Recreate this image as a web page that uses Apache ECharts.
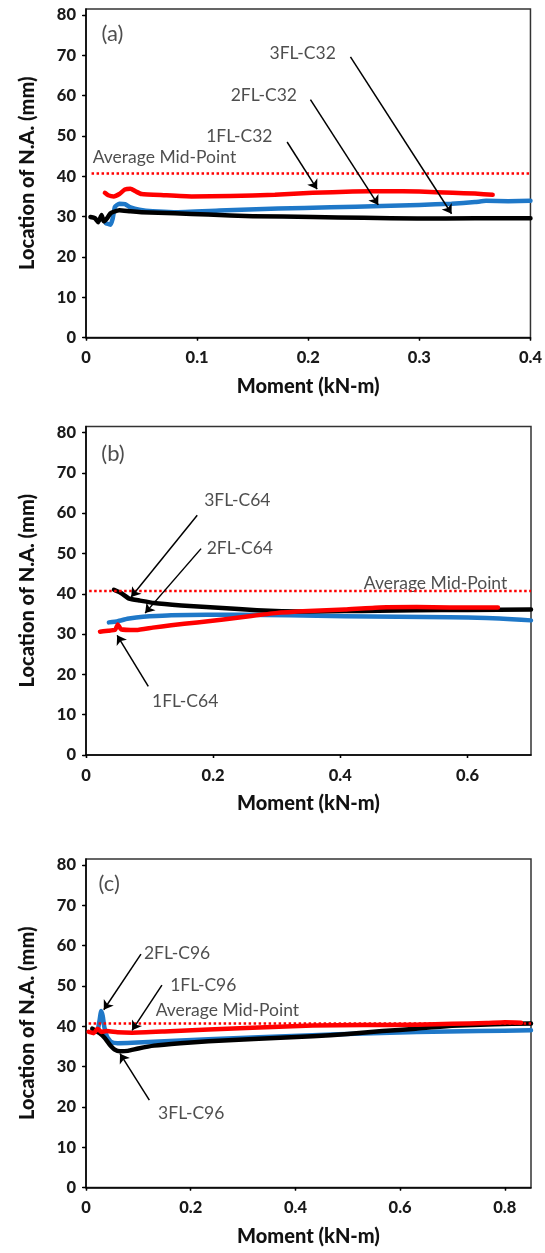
<!DOCTYPE html>
<html><head><meta charset="utf-8">
<script src="https://cdn.jsdelivr.net/npm/echarts@6/dist/echarts.min.js"></script>
<style>html,body{margin:0;padding:0;background:#fff}#c{width:545px;height:1253px}</style>
</head><body><div id="c"></div>
<script>
// ---- tick labels / axis ranges ----
const yTicks = [0,10,20,30,40,50,60,70,80];
const yMax = 81.5;
const xMaxes = [0.4, 0.7, 0.85];
const xTicksA = [0,0.1,0.2,0.3,0.4];
const xTicksB = [0,0.2,0.4,0.6];
const xTicksC = [0,0.2,0.4,0.6,0.8];
const xTitle = 'Moment (kN-m)';
const yTitle = 'Location of N.A. (mm)';
const midPoint = 40.7;

// ---- panel (a) C32 ----
const a1FL = [[0.017,35.9],[0.02,35.3],[0.025,35.0],[0.03,35.6],[0.035,36.7],[0.04,36.9],[0.045,36.2],[0.05,35.6],[0.07,35.3],[0.095,35.0],[0.13,35.1],[0.17,35.4],[0.204,35.9],[0.24,36.2],[0.27,36.3],[0.3,36.2],[0.33,35.9],[0.35,35.7],[0.366,35.4]];
const a2FL = [[0.018,28.3],[0.022,28.0],[0.024,29.5],[0.026,32.4],[0.03,33.2],[0.035,33.1],[0.04,32.3],[0.048,31.7],[0.06,31.3],[0.079,31.1],[0.12,31.5],[0.173,32.0],[0.22,32.3],[0.266,32.6],[0.3,32.9],[0.329,33.2],[0.35,33.6],[0.36,33.9],[0.38,33.8],[0.4,33.9]];
const a3FL = [[0.004,29.9],[0.008,29.6],[0.011,28.6],[0.014,30.4],[0.016,28.8],[0.019,29.6],[0.022,30.8],[0.025,31.2],[0.03,31.6],[0.04,31.3],[0.05,31.1],[0.08,30.8],[0.11,30.5],[0.15,30.1],[0.204,29.9],[0.25,29.7],[0.298,29.5],[0.35,29.6],[0.4,29.6]];
// ---- panel (b) C64 ----
const b1FL = [[0.022,30.6],[0.035,30.8],[0.046,31.1],[0.05,32.4],[0.055,31.2],[0.079,31.0],[0.105,31.6],[0.134,32.2],[0.175,32.9],[0.216,33.6],[0.26,34.5],[0.298,35.2],[0.35,35.7],[0.407,36.1],[0.462,36.6],[0.52,36.7],[0.572,36.6],[0.62,36.6],[0.648,36.6]];
const b2FL = [[0.036,32.9],[0.05,33.2],[0.065,33.8],[0.079,34.1],[0.1,34.4],[0.134,34.7],[0.19,34.8],[0.243,34.8],[0.32,34.7],[0.407,34.4],[0.49,34.3],[0.572,34.2],[0.63,34.0],[0.67,33.7],[0.7,33.4]];
const b3FL = [[0.044,41.0],[0.055,40.2],[0.068,38.8],[0.085,38.3],[0.107,37.7],[0.15,37.1],[0.189,36.7],[0.24,36.2],[0.298,35.7],[0.35,35.6],[0.407,35.7],[0.46,35.8],[0.517,35.9],[0.6,36.0],[0.7,36.1]];
// ---- panel (c) C96 ----
const c1FL = [[0.005,38.6],[0.015,38.3],[0.022,39.4],[0.029,38.6],[0.04,38.8],[0.06,38.5],[0.088,38.4],[0.15,38.7],[0.234,39.2],[0.33,39.7],[0.433,40.2],[0.53,40.3],[0.632,40.4],[0.7,40.6],[0.765,40.8],[0.8,41.0],[0.831,40.9]];
const c2FL = [[0.022,38.6],[0.026,41.5],[0.029,43.8],[0.032,42.5],[0.035,39.8],[0.04,37.5],[0.048,36.1],[0.06,35.8],[0.088,35.9],[0.15,36.3],[0.234,36.8],[0.33,37.3],[0.433,37.8],[0.53,38.2],[0.632,38.6],[0.75,38.8],[0.85,39.0]];
const c3FL = [[0.012,39.4],[0.025,38.4],[0.035,37.2],[0.045,35.5],[0.055,34.2],[0.065,33.8],[0.08,33.9],[0.1,34.5],[0.13,35.2],[0.18,35.8],[0.234,36.3],[0.33,36.9],[0.433,37.5],[0.5,38.1],[0.566,38.8],[0.63,39.4],[0.699,40.1],[0.78,40.5],[0.85,40.7]];

// ---- annotations: [text, x, y, align] and arrows [x1,y1,x2,y2] ----
const aTexts = [['3FL-C32',0.195,70.5,'c'],['2FL-C32',0.16,60.1,'c'],['1FL-C32',0.138,49.9,'c'],['Average Mid-Point',0.006,44.7,'l'],['(a)',0.014,75.4,'l']];
const aArrows = [[0.238,69.6,0.329,30.7],[0.202,59.0,0.263,32.9],[0.181,48.5,0.208,36.8]];
const bTexts = [['3FL-C64',0.238,63.2,'c'],['2FL-C64',0.242,51.2,'c'],['1FL-C64',0.156,13.3,'c'],['Average Mid-Point',0.437,42.7,'l'],['(b)',0.024,74.8,'l']];
const bArrows = [[0.175,59.5,0.071,39.2],[0.181,51.2,0.093,35.2],[0.098,17.0,0.049,29.7]];
const cTexts = [['2FL-C96',0.174,58.1,'c'],['1FL-C96',0.224,50.2,'c'],['3FL-C96',0.201,18.3,'c'],['Average Mid-Point',0.133,44.0,'l'],['(c)',0.024,75.4,'l']];
const cArrows = [[0.105,57.9,0.034,44.1],[0.145,50.2,0.088,39.0],[0.121,21.7,0.065,33.2]];

const RED = '#ff0000', BLUE = '#1f78c8', BLACK = '#000000';
const FONT = 'Lato';
const panels = [
  {top: 9, height: 328.5, xt: xTicksA, s1: a1FL, s2: a2FL, s3: a3FL, texts: aTexts, arrows: aArrows},
  {top: 426.5, height: 328.5, xt: xTicksB, s1: b1FL, s2: b2FL, s3: b3FL, texts: bTexts, arrows: bArrows},
  {top: 859, height: 328.5, xt: xTicksC, s1: c1FL, s2: c2FL, s3: c3FL, texts: cTexts, arrows: cArrows}
];

const grid = [], xAxis = [], yAxis = [], series = [];
panels.forEach((p, i) => {
  grid.push({left: 86, right: 14, top: p.top, height: p.height, show: true, borderColor: '#333', borderWidth: 1.5, backgroundColor: 'transparent'});
  const tickStyle = {color: '#000', width: 1.3};
  xAxis.push({type: 'value', gridIndex: i, min: 0, max: xMaxes[i],
    axisLine: {show: true, onZero: false, lineStyle: {color: '#000', width: 1.5}},
    axisTick: {show: true, inside: false, length: 3, customValues: p.xt, lineStyle: tickStyle},
    axisLabel: {show: true, margin: 12, customValues: p.xt, color: '#1a1a1a', fontFamily: FONT, fontWeight: 900, fontSize: 16.5,
      formatter: v => (v === 0 ? '0' : String(+v.toFixed(2)))},
    splitLine: {show: false},
    name: xTitle, nameLocation: 'middle', nameGap: 39,
    nameTextStyle: {color: '#111', fontFamily: FONT, fontWeight: 900, fontSize: 20}});
  xAxis.push({type: 'value', gridIndex: i, min: 0, max: xMaxes[i],
    axisLine: {show: false}, axisTick: {show: true, inside: true, length: 3, customValues: p.xt, lineStyle: tickStyle},
    axisLabel: {show: false}, splitLine: {show: false}});
  yAxis.push({type: 'value', gridIndex: i, min: 0, max: yMax,
    axisLine: {show: true, onZero: false, lineStyle: {color: '#000', width: 1.5}},
    axisTick: {show: true, inside: false, length: 4, customValues: yTicks, lineStyle: tickStyle},
    axisLabel: {show: true, margin: 10, customValues: yTicks, color: '#1a1a1a', fontFamily: FONT, fontWeight: 900, fontSize: 16.5},
    splitLine: {show: false},
    name: yTitle, nameLocation: 'middle', nameGap: 48,
    nameTextStyle: {color: '#111', fontFamily: FONT, fontWeight: 900, fontSize: 20}});
  yAxis.push({type: 'value', gridIndex: i, min: 0, max: yMax,
    axisLine: {show: false}, axisTick: {show: true, inside: true, length: 3, customValues: yTicks, lineStyle: tickStyle},
    axisLabel: {show: false}, splitLine: {show: false}});
  const xi = 2 * i, yi = 2 * i;
  const lineSeries = (data, color, name) => ({type: 'line', name, xAxisIndex: xi, yAxisIndex: yi, data,
    showSymbol: false, symbol: 'none', smooth: 0.15, lineStyle: {color, width: 4.5, cap: 'round', join: 'round'}, silent: true, animation: false});
  series.push(lineSeries(p.s2, BLUE, '2FL'));
  series.push(lineSeries(p.s3, BLACK, '3FL'));
  series.push(lineSeries(p.s1, RED, '1FL'));
  series.push({type: 'line', xAxisIndex: xi, yAxisIndex: yi, data: [[0.005, midPoint], [xMaxes[i], midPoint]],
    showSymbol: false, symbol: 'none', lineStyle: {color: RED, width: 2.5, type: [2.5, 2.5]}, silent: true, animation: false});
  series.push({type: 'scatter', xAxisIndex: xi, yAxisIndex: yi, symbolSize: 0, silent: true, animation: false,
    data: p.texts.map(t => ({value: [t[1], t[2]], name: t[0],
      label: {show: true, formatter: '{b}', position: t[3] === 'l' ? 'right' : 'inside', distance: 0,
        color: '#222', fontFamily: FONT, fontSize: t[0].startsWith('(') ? 22 : 17.5}})),
    markLine: {silent: true, animation: false, symbol: ['none', 'arrow'], symbolSize: 9, precision: 4,
      label: {show: false}, lineStyle: {color: '#000', width: 1.5, type: 'solid'},
      emphasis: {disabled: true},
      data: p.arrows.map(a => [{coord: [a[0], a[1]]}, {coord: [a[2], a[3]]}])}});
});

const chart = echarts.init(document.getElementById('c'), null, {renderer: 'canvas'});
chart.setOption({backgroundColor: '#fff', animation: false, grid, xAxis, yAxis, series});
</script></body></html>
